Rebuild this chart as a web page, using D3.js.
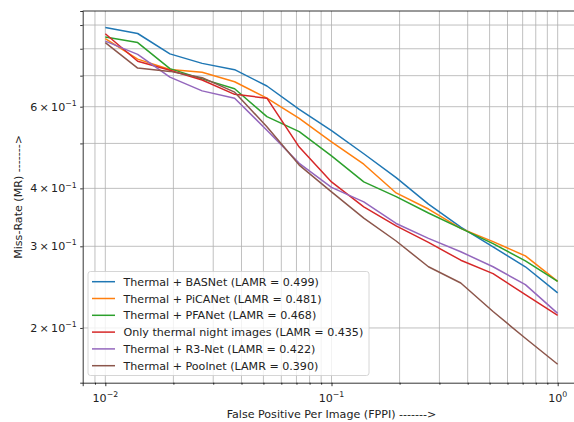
<!DOCTYPE html>
<html>
<head>
<meta charset="utf-8">
<script src="https://cdn.jsdelivr.net/npm/d3@7"></script>
<style>
  html, body { margin: 0; padding: 0; background: #fff; }
  svg { display: block; font-family: "DejaVu Sans", sans-serif; }
</style>
</head>
<body>
<svg id="chart" width="574" height="422"></svg>
<script>
// FPPI sample points (x axis)
const fppi = [0.0100, 0.0139, 0.0193, 0.0268, 0.0373, 0.0518, 0.0720, 0.1000,
              0.1389, 0.1931, 0.2683, 0.3728, 0.5179, 0.7197, 1.0000];

// miss rate per method
const basnet = [0.889, 0.863, 0.780, 0.744, 0.721, 0.665, 0.592, 0.533, 0.475, 0.422, 0.370, 0.330, 0.299, 0.271, 0.238];
const picanet = [0.841, 0.760, 0.722, 0.712, 0.679, 0.626, 0.566, 0.504, 0.451, 0.391, 0.361, 0.328, 0.307, 0.286, 0.252];
const pfanet = [0.848, 0.825, 0.725, 0.689, 0.656, 0.571, 0.530, 0.470, 0.413, 0.384, 0.354, 0.328, 0.304, 0.279, 0.252];
const thermalOnly = [0.862, 0.752, 0.719, 0.685, 0.638, 0.626, 0.491, 0.413, 0.365, 0.332, 0.306, 0.280, 0.262, 0.236, 0.213];
const r3net = [0.831, 0.778, 0.695, 0.649, 0.626, 0.534, 0.453, 0.402, 0.374, 0.336, 0.312, 0.292, 0.271, 0.248, 0.215];
const poolnet = [0.825, 0.727, 0.715, 0.693, 0.645, 0.543, 0.449, 0.393, 0.345, 0.308, 0.271, 0.250, 0.217, 0.190, 0.167];

const labels = [
  "Thermal + BASNet (LAMR = 0.499)",
  "Thermal + PiCANet (LAMR = 0.481)",
  "Thermal + PFANet (LAMR = 0.468)",
  "Only thermal night images (LAMR = 0.435)",
  "Thermal + R3-Net (LAMR = 0.422)",
  "Thermal + Poolnet (LAMR = 0.390)"
];
const colors = ["#1f77b4", "#ff7f0e", "#2ca02c", "#d62728", "#9467bd", "#8c564b"];
const values = [basnet, picanet, pfanet, thermalOnly, r3net, poolnet];

// ticks
const xMajor = [0.01, 0.1, 1];
const xMajorExp = ["\u22122", "\u22121", "0"];
const xMinor = [0.009, 0.02, 0.03, 0.04, 0.05, 0.06, 0.07, 0.08, 0.09,
                0.2, 0.3, 0.4, 0.5, 0.6, 0.7, 0.8, 0.9];
const yTicks = [0.2, 0.3, 0.4, 0.5, 0.6, 0.7, 0.8, 0.9];
const yLabelled = [0.2, 0.3, 0.4, 0.6];

const mLeft = 82.7, mRight = 580.3, mTop = 11, mBottom = 382.7;
const fs = 11.1;

const svg = d3.select("#chart");

const x = d3.scaleLog().domain([Math.pow(10, -2.1), Math.pow(10, 0.1)]).range([mLeft, mRight]);
const y = d3.scaleLog().domain([0.1524, 0.965]).range([mBottom, mTop]);

// grid
const grid = svg.append("g").attr("stroke", "#b0b0b0").attr("stroke-width", 0.8);
grid.selectAll(".gx").data(xMajor.concat(xMinor)).join("line")
  .attr("x1", d => x(d)).attr("x2", d => x(d))
  .attr("y1", mTop).attr("y2", mBottom);
grid.selectAll(".gy").data(yTicks).join("line")
  .attr("x1", mLeft).attr("x2", mRight)
  .attr("y1", d => y(d)).attr("y2", d => y(d));

// curves
const line = d3.line().x(d => x(d[0])).y(d => y(d[1]));
const plot = svg.append("g");
values.forEach((vals, i) => {
  plot.append("path")
    .datum(fppi.map((f, k) => [f, vals[k]]))
    .attr("fill", "none")
    .attr("stroke", colors[i])
    .attr("stroke-width", 1.5)
    .attr("stroke-linejoin", "round")
    .attr("d", line);
});

// axes
const xAxisMajor = d3.axisBottom(x).tickValues(xMajor).tickSize(3.5).tickFormat(() => "");
const xAxisMinor = d3.axisBottom(x).tickValues(xMinor).tickSize(2).tickFormat(() => "");
const gx = svg.append("g").attr("transform", `translate(0,${mBottom})`);
gx.call(xAxisMajor);
const gxm = svg.append("g").attr("transform", `translate(0,${mBottom})`).call(xAxisMinor);
gxm.select(".domain").remove();
gx.select(".domain").attr("stroke-width", 0.8);
svg.selectAll(".tick line").attr("stroke-width", 0.8);

const yAxis = d3.axisLeft(y).tickValues(yTicks).tickSize(2.5).tickFormat(() => "");
const gy = svg.append("g").attr("transform", `translate(${mLeft},0)`).call(yAxis);
gy.select(".domain").attr("stroke-width", 0.8);
gy.selectAll(".tick line").attr("stroke-width", 0.8);

// top and right spines
svg.append("line").attr("x1", mLeft).attr("x2", mRight).attr("y1", mTop).attr("y2", mTop)
  .attr("stroke", "#000").attr("stroke-width", 0.8);
svg.append("line").attr("x1", mRight).attr("x2", mRight).attr("y1", mTop).attr("y2", mBottom)
  .attr("stroke", "#000").attr("stroke-width", 0.8);

// x tick labels: 10^k
xMajor.forEach((v, i) => {
  const t = svg.append("text")
    .attr("x", x(v)).attr("y", mBottom + 19)
    .attr("text-anchor", "middle")
    .attr("font-size", fs).attr("fill", "#222");
  t.append("tspan").text("10");
  t.append("tspan").attr("dy", -4.8).attr("font-size", fs * 0.7).text(xMajorExp[i]);
});

// y tick labels: a × 10^-1
yLabelled.forEach(v => {
  const t = svg.append("text")
    .attr("x", mLeft - 6).attr("y", y(v) + 4)
    .attr("text-anchor", "end")
    .attr("font-size", fs).attr("fill", "#222");
  t.append("tspan").text(`${Math.round(v * 10)}\u2009\u00d7\u200910`);
  t.append("tspan").attr("dy", -4.8).attr("font-size", fs * 0.7).text("\u22121");
});

// axis titles
svg.append("text")
  .attr("x", (mLeft + mRight) / 2).attr("y", 417.5)
  .attr("text-anchor", "middle").attr("font-size", fs).attr("fill", "#222")
  .text("False Positive Per Image (FPPI) ------->");
svg.append("text")
  .attr("transform", `translate(22,${(mTop + mBottom) / 2}) rotate(-90)`)
  .attr("text-anchor", "middle").attr("font-size", fs).attr("fill", "#222")
  .text("Miss-Rate (MR) ------->");

// legend
const lg = svg.append("g");
lg.append("rect")
  .attr("x", 88).attr("y", 271.5).attr("width", 281).attr("height", 104)
  .attr("rx", 2.5)
  .attr("fill", "#fff").attr("fill-opacity", 0.8)
  .attr("stroke", "#cccccc").attr("stroke-width", 0.8);
labels.forEach((lab, i) => {
  const yy = 281.7 + i * 16.8;
  lg.append("line")
    .attr("x1", 92).attr("x2", 115).attr("y1", yy).attr("y2", yy)
    .attr("stroke", colors[i]).attr("stroke-width", 1.5);
  lg.append("text")
    .attr("x", 123.5).attr("y", yy + 4)
    .attr("font-size", fs).attr("fill", "#222")
    .text(lab);
});
</script>
</body>
</html>
